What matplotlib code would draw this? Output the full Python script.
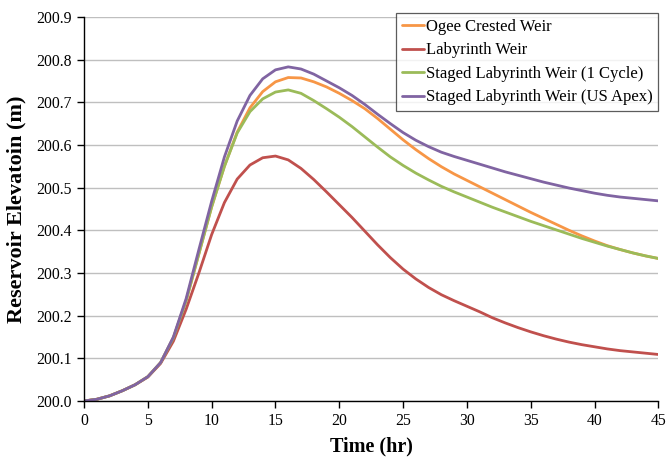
import matplotlib
matplotlib.use("Agg")
import matplotlib.pyplot as plt

time = list(range(0, 46))

ogee = [200.0, 200.004, 200.012, 200.024, 200.038, 200.057, 200.09, 200.148, 200.235, 200.345,
        200.455, 200.55, 200.63, 200.687, 200.725, 200.748, 200.758, 200.757, 200.748, 200.736,
        200.721, 200.704, 200.685, 200.662, 200.637, 200.612, 200.589, 200.568, 200.549, 200.532,
        200.517, 200.502, 200.487, 200.472, 200.457, 200.442, 200.428, 200.414, 200.40, 200.387,
        200.375, 200.364, 200.355, 200.347, 200.34, 200.334]

labyrinth = [200.0, 200.004, 200.012, 200.024, 200.038, 200.056, 200.088, 200.14, 200.215, 200.30,
             200.39, 200.465, 200.52, 200.553, 200.57, 200.574, 200.565, 200.545, 200.519, 200.49,
             200.46, 200.43, 200.398, 200.366, 200.336, 200.309, 200.286, 200.266, 200.249, 200.235,
             200.222, 200.209, 200.195, 200.183, 200.172, 200.162, 200.153, 200.145, 200.138, 200.132,
             200.127, 200.122, 200.118, 200.115, 200.112, 200.109]

staged_1cycle = [200.0, 200.004, 200.012, 200.024, 200.038, 200.057, 200.09, 200.148, 200.235, 200.345,
                 200.455, 200.55, 200.628, 200.678, 200.708, 200.724, 200.729, 200.721, 200.704, 200.685,
                 200.665, 200.643, 200.619, 200.595, 200.572, 200.552, 200.534, 200.518, 200.503, 200.49,
                 200.478, 200.466, 200.454, 200.443, 200.432, 200.421, 200.411, 200.401, 200.391, 200.381,
                 200.372, 200.363, 200.355, 200.347, 200.34, 200.334]

staged_apex = [200.0, 200.004, 200.012, 200.024, 200.038, 200.057, 200.09, 200.15, 200.24, 200.355,
               200.468, 200.572, 200.656, 200.716, 200.755, 200.776, 200.783, 200.778, 200.766, 200.75,
               200.734, 200.716, 200.695, 200.672, 200.65, 200.629, 200.611, 200.596, 200.583, 200.573,
               200.564, 200.555, 200.546, 200.537, 200.529, 200.521, 200.513, 200.506, 200.499, 200.493,
               200.487, 200.482, 200.478, 200.475, 200.472, 200.469]

series_labels = ["Ogee Crested Weir", "Labyrinth Weir",
                 "Staged Labyrinth Weir (1 Cycle)", "Staged Labyrinth Weir (US Apex)"]
colors = ["#F79646", "#C0504D", "#9BBB59", "#8064A2"]

x_ticks = [0, 5, 10, 15, 20, 25, 30, 35, 40, 45]
y_ticks = [200.0, 200.1, 200.2, 200.3, 200.4, 200.5, 200.6, 200.7, 200.8, 200.9]

plt.rcParams['font.family'] = ['Liberation Serif', 'DejaVu Serif']

fig = plt.figure(figsize=(6.67, 4.58), dpi=100)
ax = fig.add_axes([0.126, 0.1245, 0.861, 0.8385])

for ys, lab, c in zip([ogee, labyrinth, staged_1cycle, staged_apex], series_labels, colors):
    ax.plot(time, ys, color=c, lw=2.0, label=lab, solid_joinstyle='round', solid_capstyle='round')

ax.set_xlim(0, 45)
ax.set_ylim(200.0, 200.9)
ax.set_xticks(x_ticks)
ax.set_yticks(y_ticks)
ax.set_yticklabels([f"{v:.1f}" for v in y_ticks])
ax.tick_params(direction='out', length=5, width=1, labelsize=11.3, colors='black', pad=4)
ax.yaxis.grid(True, color='#BFBFBF', lw=1)
ax.set_axisbelow(True)
for s in ['top', 'right']:
    ax.spines[s].set_visible(False)
for s in ['left', 'bottom']:
    ax.spines[s].set_color('black')
    ax.spines[s].set_linewidth(1)

ax.set_xlabel("Time (hr)", fontsize=14.5, fontweight='bold', labelpad=5)
ax.set_ylabel("Reservoir Elevatoin (m)", fontsize=16, fontweight='bold', labelpad=7)

leg = ax.legend(loc='upper right', bbox_to_anchor=(1.0, 1.01), fontsize=12, frameon=True,
                fancybox=False, edgecolor='#333333', handlelength=1.35, handletextpad=0.1,
                borderpad=0.35, labelspacing=0.45, borderaxespad=0.0)
leg.get_frame().set_linewidth(0.9)

fig.savefig("out.png", dpi=100)
